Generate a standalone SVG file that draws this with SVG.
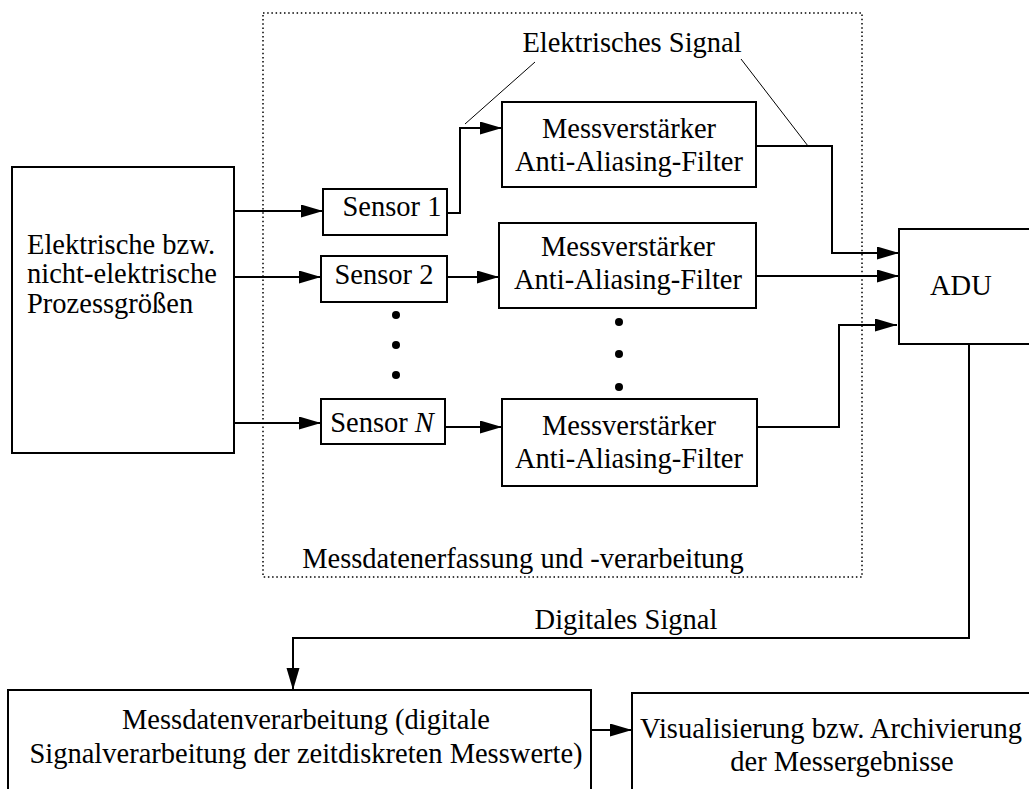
<svg xmlns="http://www.w3.org/2000/svg" width="1029" height="789" viewBox="0 0 1029 789">
<defs>
<style>
.box{fill:#fff;stroke:#000;stroke-width:2}
.t{font-family:"Liberation Serif","Times New Roman",serif;font-size:28.5px;fill:#000}
.m{text-anchor:middle}
.c{fill:none;stroke:#000;stroke-width:2}
.a{marker-end:url(#ah)}
.lead{fill:none;stroke:#000;stroke-width:1}
.dot{fill:#000}
</style>
<marker id="ah" markerUnits="userSpaceOnUse" markerWidth="23" markerHeight="14" refX="22" refY="6.5" orient="auto">
<path d="M0,0 L22,6.5 L0,13 z" fill="#000"/>
</marker>
</defs>
<rect width="1029" height="789" fill="#fff"/>
<g id="frame">
<rect x="263" y="13" width="599" height="564" fill="none" stroke="#000" stroke-width="1.5" stroke-dasharray="1.5 2.7"/>
<text class="t m" x="523" y="568">Messdatenerfassung und -verarbeitung</text>
</g>
<g id="source">
<rect class="box" x="12" y="167" width="222" height="286"/>
<text class="t" x="27" y="254">Elektrische bzw.</text>
<text class="t" x="27" y="283">nicht-elektrische</text>
<text class="t" x="27" y="313">Prozessgrößen</text>
</g>
<g id="sensor1">
<rect class="box" x="323" y="189" width="124" height="46"/>
<text class="t m" x="392" y="216">Sensor 1</text>
</g>
<g id="sensor2">
<rect class="box" x="321" y="256" width="126" height="46"/>
<text class="t m" x="384" y="284">Sensor 2</text>
</g>
<g id="sensorN">
<rect class="box" x="321" y="399" width="124" height="45"/>
<text class="t m" x="382" y="432">Sensor <tspan font-style="italic">N</tspan></text>
</g>
<g id="amp1">
<rect class="box" x="502" y="102" width="254" height="85"/>
<text class="t m" x="629" y="138">Messverstärker</text>
<text class="t m" x="629" y="171">Anti-Aliasing-Filter</text>
</g>
<g id="amp2">
<rect class="box" x="499" y="223" width="257" height="85"/>
<text class="t m" x="628" y="256">Messverstärker</text>
<text class="t m" x="628" y="289">Anti-Aliasing-Filter</text>
</g>
<g id="ampN">
<rect class="box" x="502" y="399" width="255" height="87"/>
<text class="t m" x="629" y="435">Messverstärker</text>
<text class="t m" x="629" y="468">Anti-Aliasing-Filter</text>
</g>
<g id="adu">
<rect class="box" x="899" y="229" width="145" height="115"/>
<text class="t" x="930" y="295">ADU</text>
</g>
<g id="processing">
<rect class="box" x="8" y="690" width="583" height="120"/>
<text class="t m" x="306" y="729">Messdatenverarbeitung (digitale</text>
<text class="t m" x="306" y="763">Signalverarbeitung der zeitdiskreten Messwerte)</text>
</g>
<g id="visualisation">
<rect class="box" x="632" y="693" width="420" height="120"/>
<text class="t m" x="831" y="738">Visualisierung bzw. Archivierung</text>
<text class="t m" x="842" y="771">der Messergebnisse</text>
</g>
<g id="ellipsis">
<circle class="dot" cx="396" cy="315" r="4"/>
<circle class="dot" cx="396" cy="345" r="4"/>
<circle class="dot" cx="396" cy="375" r="4"/>
<circle class="dot" cx="619" cy="322" r="4"/>
<circle class="dot" cx="619" cy="354" r="4"/>
<circle class="dot" cx="619" cy="387" r="4"/>
</g>
<g id="connectors">
<path class="c a" d="M234,211 H323"/>
<path class="c a" d="M234,277 H321"/>
<path class="c a" d="M234,423 H321"/>
<path class="c a" d="M447,213 H460 V128 H502"/>
<path class="c a" d="M447,277 H499"/>
<path class="c a" d="M445,427 H502"/>
<path class="c a" d="M756,146 H832 V253 H899"/>
<path class="c a" d="M756,276 H899"/>
<path class="c a" d="M757,427 H839 V325 H897"/>
<path class="c a" d="M969,344 V638 H293 V690"/>
<path class="c a" d="M591,730 H632"/>
<path class="lead" d="M535,62 L465,124"/>
<path class="lead" d="M741,59 L808,146"/>
<text class="t m" x="632" y="52">Elektrisches Signal</text>
<text class="t m" x="626" y="629">Digitales Signal</text>
</g>
</svg>
